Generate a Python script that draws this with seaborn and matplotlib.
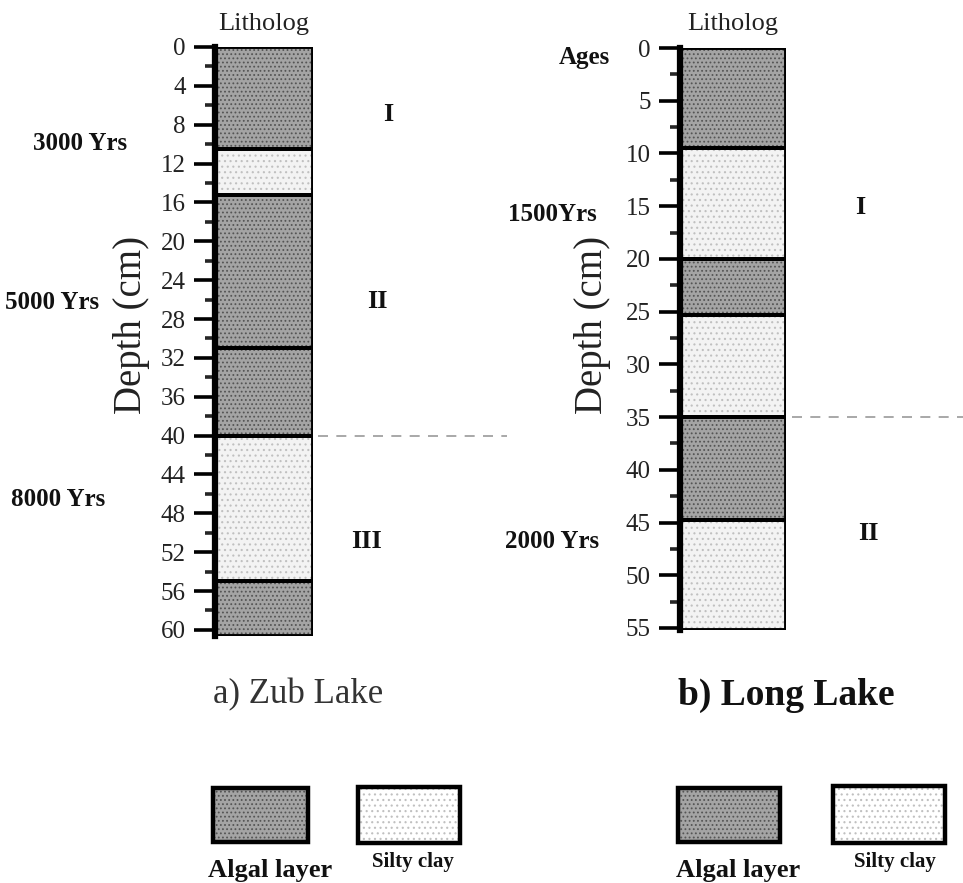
import matplotlib
matplotlib.use("Agg")
import matplotlib.pyplot as plt
import matplotlib.transforms as mtransforms
from matplotlib.patches import Rectangle
import pandas as pd
import seaborn as sns

# ---------------- data ----------------
zub_tops = [0, 10.5, 15.2, 31, 40, 55]
zub_bottoms = [10.5, 15.2, 31, 40, 55, 60.6]
zub_types = ["Algal layer", "Silty clay", "Algal layer", "Algal layer", "Silty clay", "Algal layer"]
zub_ticks = list(range(0, 61, 4))
zub_ages = ["3000 Yrs", "5000 Yrs", "8000 Yrs"]
zub_age_depths = [9.9, 26.3, 46.6]
zub_zones = ["I", "II", "III"]
zub_zone_depths = [7.0, 26.2, 50.9]
zub_boundary = 40

long_tops = [0, 9.5, 20, 25.3, 35, 44.8]
long_bottoms = [9.5, 20, 25.3, 35, 44.8, 55.2]
long_types = ["Algal layer", "Silty clay", "Algal layer", "Silty clay", "Algal layer", "Silty clay"]
long_ticks = list(range(0, 56, 5))
long_ages = ["Ages", "1500Yrs", "2000 Yrs"]
long_age_depths = [0.9, 15.8, 46.8]
long_zones = ["I", "II"]
long_zone_depths = [15.1, 46.0]
long_boundary = 35

legend_labels = ["Algal layer", "Silty clay"]

# ---------------- style ----------------
sns.set_theme(style="white")
plt.rcParams["font.family"] = ["Liberation Serif", "DejaVu Serif"]
plt.rcParams["hatch.linewidth"] = 0.8

STYLE = {
    "Algal layer": dict(face="#a4a4a4", hatch="....", hcol="#555555"),
    "Silty clay": dict(face="#f3f3f3", hatch="...", hcol="#c0c0c0"),
}

fig = plt.figure(figsize=(9.63, 8.83), dpi=100)
fig.patch.set_facecolor("white")


def draw_column(ax, tops, bottoms, types, ticks, ylim_bottom, minor_step):
    df = pd.DataFrame({"top": tops, "bottom": bottoms, "type": types})
    df["thick"] = df["bottom"] - df["top"]
    for _, r in df.iterrows():
        s = STYLE[r["type"]]
        ax.bar(0.5, r["thick"], bottom=r["top"], width=1.0, color=s["face"],
               hatch=s["hatch"], edgecolor=s["hcol"], linewidth=0, zorder=1)
        ax.bar(0.5, r["thick"], bottom=r["top"], width=1.0, fill=False,
               edgecolor="black", linewidth=2.8, zorder=2)
    ax.set_xlim(0, 1)
    ax.set_ylim(ylim_bottom, 0)
    ax.set_xticks([])
    ax.set_yticks(ticks)
    ax.set_yticks([t + minor_step for t in ticks[:-1]], minor=True)
    ax.tick_params(axis="y", which="major", direction="out", length=15, width=2.6,
                   labelsize=18, pad=6, left=True, colors="black")
    ax.tick_params(axis="y", which="minor", direction="out", length=7.5, width=2.6, left=True)
    sns.despine(ax=ax, top=True, right=True, bottom=True, left=False)
    ax.spines["left"].set_linewidth(4.5)
    ax.spines["left"].set_color("black")
    ax.set_facecolor("none")
    for lab in ax.get_yticklabels():
        lab.set_color("#222222")


# ---- Zub Lake ----
ax1 = fig.add_axes([0.2233, 0.2800, 0.1018, 0.6668])
draw_column(ax1, zub_tops, zub_bottoms, zub_types, zub_ticks, 60.6, 2)
tr1 = mtransforms.blended_transform_factory(ax1.transAxes, ax1.transData)
for lab, d, x in zip(zub_ages, zub_age_depths, [-1.38, -1.66, -1.6]):
    ax1.text(x, d, lab, transform=tr1, ha="center", va="center",
             fontsize=18, fontweight="bold", color="#111111")
for lab, d, x in zip(zub_zones, zub_zone_depths, [1.77, 1.66, 1.54]):
    ax1.text(x, d, lab, transform=tr1, ha="center", va="center",
             fontsize=19, fontweight="bold", color="#111111")
ax1.plot([1.05, 2.98], [zub_boundary, zub_boundary], transform=tr1, clip_on=False,
         color="#999999", lw=1.2, dashes=(6, 5))

# ---- Long Lake ----
ax2 = fig.add_axes([0.7061, 0.2864, 0.1101, 0.6592])
draw_column(ax2, long_tops, long_bottoms, long_types, long_ticks, 55.2, 2.5)
tr2 = mtransforms.blended_transform_factory(ax2.transAxes, ax2.transData)
for lab, d, x in zip(long_ages, long_age_depths, [-0.90, -1.20, -1.21]):
    ax2.text(x, d, lab, transform=tr2, ha="center", va="center",
             fontsize=18, fontweight="bold", color="#111111")
for lab, d, x in zip(long_zones, long_zone_depths, [1.70, 1.78]):
    ax2.text(x, d, lab, transform=tr2, ha="center", va="center",
             fontsize=19, fontweight="bold", color="#111111")
ax2.plot([1.06, 2.8], [long_boundary, long_boundary], transform=tr2, clip_on=False,
         color="#999999", lw=1.2, dashes=(6, 5))

# ---- titles / labels ----
W, H = 963.0, 883.0
def fx(px):
    return px / W
def fy(py):
    return 1 - py / H

fig.text(fx(264), fy(24), "Litholog", ha="center", va="center", fontsize=19, color="#222222")
fig.text(fx(733), fy(24), "Litholog", ha="center", va="center", fontsize=19, color="#222222")
fig.text(fx(132), fy(325), "Depth (cm)", ha="center", va="center", rotation=90, fontsize=28, color="#222222")
fig.text(fx(592), fy(325), "Depth (cm)", ha="center", va="center", rotation=90, fontsize=28, color="#222222")
fig.text(fx(298), fy(695), "a) Zub Lake", ha="center", va="center", fontsize=25, color="#333333")
fig.text(fx(786), fy(695), "b) Long Lake", ha="center", va="center", fontsize=27,
         fontweight="bold", color="#111111")

# ---- legends ----
boxes = [
    (213, 788, 308, 842, legend_labels[0], 270, 870, 19),
    (358, 787, 460, 843, legend_labels[1], 413, 862, 15),
    (678, 788, 780, 842, legend_labels[0], 738, 870, 19),
    (833, 786, 945, 843, legend_labels[1], 895, 862, 15),
]
for x0, y0, x1, y1, lab, tx, ty, fs in boxes:
    s = STYLE[lab]
    rect = Rectangle((fx(x0), fy(y1)), fx(x1) - fx(x0), fy(y0) - fy(y1),
                     transform=fig.transFigure, facecolor=s["face"] if lab == "Algal layer" else "white",
                     hatch=s["hatch"], edgecolor=s["hcol"], linewidth=0)
    fig.add_artist(rect)
    rect2 = Rectangle((fx(x0), fy(y1)), fx(x1) - fx(x0), fy(y0) - fy(y1),
                      transform=fig.transFigure, fill=False, edgecolor="black", linewidth=3.2)
    fig.add_artist(rect2)
    fig.text(fx(tx), fy(ty), lab, ha="center", va="center", fontsize=fs,
             fontweight="bold", color="#111111")

fig.savefig("out.png", dpi=100, facecolor="white")
